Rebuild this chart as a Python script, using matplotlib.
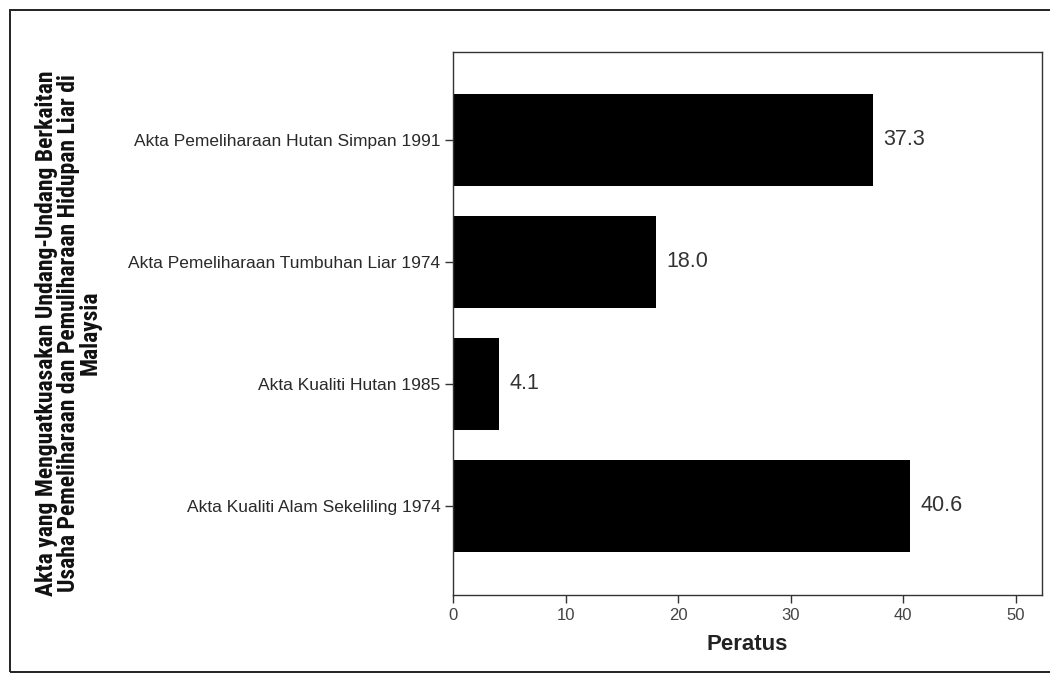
import matplotlib
matplotlib.use("Agg")
import matplotlib.pyplot as plt
from matplotlib.patches import Rectangle
from matplotlib import font_manager
from matplotlib.font_manager import FontProperties

# Data
acts = [
    "Akta Kualiti Alam Sekeliling 1974",
    "Akta Kualiti Hutan 1985",
    "Akta Pemeliharaan Tumbuhan Liar 1974",
    "Akta Pemeliharaan Hutan Simpan 1991",
]
percent = [40.6, 4.1, 18.0, 37.3]
x_ticks = [0, 10, 20, 30, 40, 50]

plt.rcParams["font.family"] = ["Liberation Sans", "DejaVu Sans"]


def pick_condensed_bold():
    """Return a bold condensed/narrow sans face if one is installed."""
    prefs = ["Liberation Sans Narrow", "Arial Narrow", "Roboto Condensed",
             "Open Sans Condensed", "Noto Sans", "DejaVu Sans", "Open Sans", "Roboto"]
    found = []
    for f in font_manager.fontManager.ttflist:
        narrow = (f.stretch in ("condensed", "semi-condensed", "extra-condensed")
                  or "Narrow" in f.name or "Condensed" in f.name
                  or "Condensed" in f.fname or "Narrow" in f.fname)
        bold = (f.weight in ("bold", 700, "semibold", 600)
                or "Bold" in f.fname)
        if narrow and bold and "Italic" not in f.fname and "Oblique" not in f.fname:
            rank = next((i for i, p in enumerate(prefs) if f.name.startswith(p)), len(prefs))
            found.append((rank, f.fname))
    if found:
        found.sort()
        return FontProperties(fname=found[0][1]), True
    return FontProperties(family=["Liberation Sans", "DejaVu Sans"], weight="bold"), False


title_fp, is_narrow = pick_condensed_bold()

fig = plt.figure(figsize=(10.5, 6.75), dpi=100)
fig.patch.set_facecolor("white")

# Outer page frame
fig.patches.append(Rectangle((0.0095, 0.0044), 1.2, 0.981, transform=fig.transFigure,
                             fill=False, edgecolor="#222222", linewidth=1.4))

ax = fig.add_axes([0.4314, 0.1185, 0.992 - 0.4314, 0.923 - 0.1185])
ypos = list(range(len(acts)))
ax.barh(ypos, percent, height=0.75, color="black", edgecolor="black", linewidth=0)

for y, v in zip(ypos, percent):
    ax.annotate(f"{v:.1f}", xy=(v, y), xytext=(7.5, 0), textcoords="offset points",
                ha="left", va="center", fontsize=15.5, color="#333333")

ax.set_xlim(0, 52.3)
ax.set_ylim(-0.73, 3.72)
ax.set_yticks(ypos)
ax.set_yticklabels(acts, fontsize=12.5, color="#2a2a2a")
ax.set_xticks(x_ticks)
ax.set_xticklabels([str(t) for t in x_ticks], fontsize=12, color="#444444")
ax.tick_params(axis="both", direction="out", length=6, width=1, color="#333333", pad=3)

for s in ax.spines.values():
    s.set_color("#333333")
    s.set_linewidth(1.0)

ax.set_xlabel("Peratus", fontsize=16, fontweight="bold", color="#222222", labelpad=8)

title_fp.set_size(17 if is_narrow else 14)
fig.text(0.065, 0.507,
         "Akta yang Menguatkuasakan Undang-Undang Berkaitan\n"
         "Usaha Pemeliharaan dan Pemuliharaan Hidupan Liar di\n"
         "Malaysia",
         rotation=90, ha="center", va="center", multialignment="center",
         fontproperties=title_fp, color="#111111",
         linespacing=0.92 if is_narrow else 1.25)

fig.savefig("out.png", dpi=100)
